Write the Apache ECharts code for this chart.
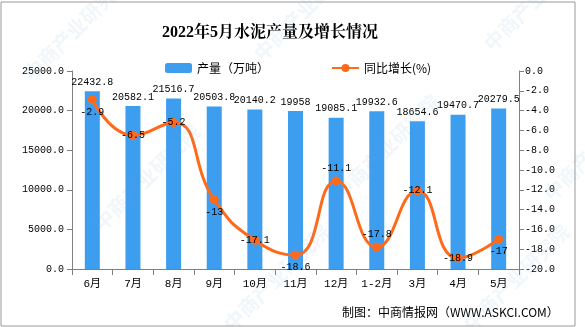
<!DOCTYPE html>
<html><head><meta charset="utf-8">
<script src="https://cdn.jsdelivr.net/npm/echarts@6/dist/echarts.min.js"></script>
<style>html,body{margin:0;padding:0;background:#fff}#c{width:585px;height:327px}</style>
</head><body><div id="c"></div>
<script>
const categories = ['6月','7月','8月','9月','10月','11月','12月','1-2月','3月','4月','5月'];
const output = [22432.8, 20582.1, 21516.7, 20503.8, 20140.2, 19958, 19085.1, 19932.6, 18654.6, 19470.7, 20279.5];
const growth = [-2.9, -6.5, -5.2, -13, -17.1, -18.6, -11.1, -17.8, -12.1, -18.9, -17];
const growthLabelPos = ['bottom','inside','inside','bottom','inside','bottom','top','top','inside','inside','bottom'];

const mono = '"Liberation Mono","Noto Sans CJK SC",monospace';
const chart = echarts.init(document.getElementById('c'));
const wm = [];
[[20,70],[250,50],[480,40],[90,220],[330,190],[540,190],[220,320],[460,320]].forEach(p=>{
  wm.push({type:'text',x:p[0],y:p[1],rotation:Math.PI/4,z:100,silent:true,
    style:{text:'中商产业研究院',font:'bold 20px "Noto Sans CJK SC"',fill:'rgba(120,170,220,0.10)'}});
});
chart.setOption({
  animation:false,
  title:{text:'2022年5月水泥产量及增长情况',left:265,textAlign:'center',top:20,
    textStyle:{fontSize:16,fontWeight:'bold',color:'#000',fontFamily:'"Liberation Serif","Noto Serif CJK SC","Noto Sans CJK SC",serif'}},
  legend:{top:57,left:160,itemGap:62,itemWidth:27,itemHeight:10,
    textStyle:{fontSize:12,color:'#000',fontFamily:'"Noto Sans CJK SC"'},
    data:['产量（万吨）','同比增长(%)']},
  grid:{left:72,right:66,top:71,bottom:58},
  xAxis:{type:'category',data:categories,
    axisLine:{lineStyle:{color:'#808080'}},
    axisTick:{show:true,length:6,lineStyle:{color:'#808080'}},
    axisLabel:{color:'#000',fontSize:11,margin:10,interval:0,fontFamily:mono}},
  yAxis:[
    {type:'value',min:0,max:25000,interval:5000,splitLine:{show:false},
     axisLine:{show:true,lineStyle:{color:'#808080'}},axisTick:{show:true,length:5},
     axisLabel:{color:'#000',fontSize:10,fontFamily:mono,margin:8,formatter:v=>v.toFixed(1)}},
    {type:'value',min:-20,max:0,interval:2,splitLine:{show:false},
     axisLine:{show:true,lineStyle:{color:'#808080'}},axisTick:{show:true,length:5},
     axisLabel:{color:'#000',fontSize:10,fontFamily:mono,margin:6,formatter:v=>v.toFixed(1)}}
  ],
  series:[
    {name:'产量（万吨）',type:'bar',data:output,barWidth:15,
     itemStyle:{color:'#3D9EF0'},
     label:{show:true,position:'top',distance:4,color:'#000',fontSize:10,fontFamily:mono}},
    {name:'同比增长(%)',type:'line',yAxisIndex:1,smooth:true,
     data:growth.map((v,i)=>({value:v,label:{position:growthLabelPos[i]}})),
     symbol:'circle',symbolSize:9,
     lineStyle:{color:'#FF6A1A',width:3},itemStyle:{color:'#FF6A1A'},
     label:{show:true,color:'#000',fontSize:10,fontFamily:mono,distance:3}}
  ],
  graphic:[{type:'rect',shape:{x:1,y:2,width:574,height:324},style:{fill:'none',stroke:'#999',lineWidth:1},silent:true},
    {type:'text',left:342,top:306,style:{text:'制图：中商情报网（WWW.ASKCI.COM）',font:'12px "Noto Sans CJK SC"',fill:'#000'}}
  ].concat(wm)
});
</script></body></html>
